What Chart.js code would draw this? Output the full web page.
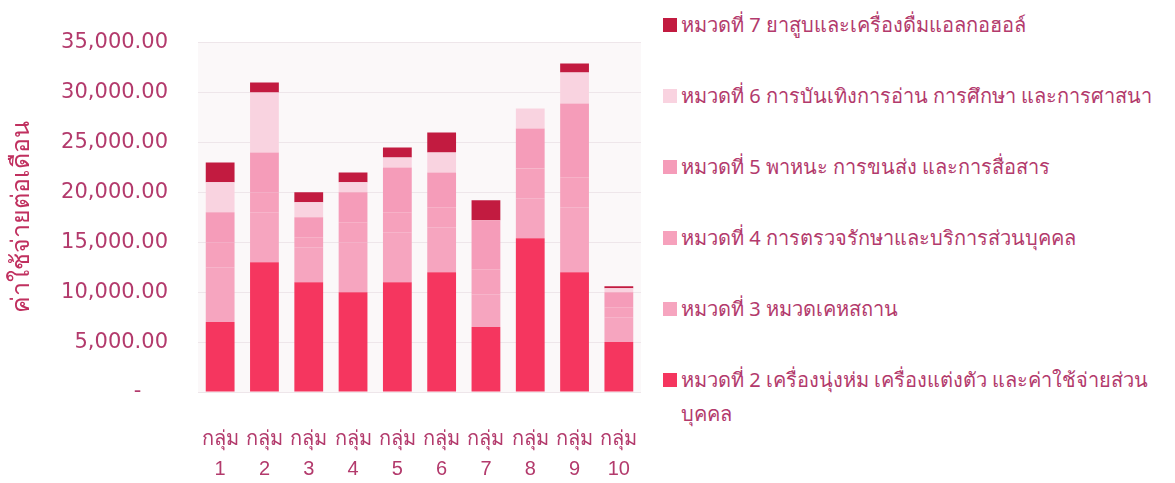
<!DOCTYPE html>
<html>
<head>
<meta charset="utf-8">
<script src="https://cdn.jsdelivr.net/npm/chart.js@4.4.1/dist/chart.umd.min.js"></script>
<style>
  body { margin: 0; background: #fff; font-family: "Noto Sans", "DejaVu Sans", sans-serif; }
  #wrap { position: relative; width: 1175px; height: 483px; }
  #box { position: absolute; left: 0; top: 0; width: 646px; height: 483px; }
  #legend { position: absolute; left: 663px; top: 8px; width: 505px;
            display: flex; flex-direction: column; gap: 37px; }
  .item { display: flex; align-items: flex-start; font-size: 20px; line-height: 34px; color: #b33a6c; }
  .item .tx { max-width: 490px; }
  .sw { width: 14px; height: 14px; margin: 10px 4px 0 0; flex: none; }
</style>
</head>
<body>
<div id="wrap">
  <div id="box"><canvas id="barChart"></canvas></div>
  <div id="legend"></div>
</div>
<script>
const groups = ['กลุ่ม 1', 'กลุ่ม 2', 'กลุ่ม 3', 'กลุ่ม 4', 'กลุ่ม 5', 'กลุ่ม 6', 'กลุ่ม 7', 'กลุ่ม 8', 'กลุ่ม 9', 'กลุ่ม 10'];

const cat2 = [7000, 13000, 11000, 10000, 11000, 12000, 6500, 15400, 12000, 5000];
const cat3 = [5500, 5000, 3500, 5000, 5000, 4500, 3300, 4000, 6500, 2500];
const cat4 = [2500, 2000, 1000, 2000, 2000, 2000, 2500, 3000, 3000, 1000];
const cat5 = [3000, 4000, 2000, 3000, 4500, 3500, 4900, 4000, 7400, 1500];
const cat6 = [3000, 6000, 1500, 1000, 1000, 2000, 0, 2000, 3100, 400];
const cat7 = [2000, 1000, 1000, 1000, 1000, 2000, 2000, 0, 900, 200];

const seriesNames = [
    'หมวดที่ 2 เครื่องนุ่งห่ม เครื่องแต่งตัว และค่าใช้จ่ายส่วนบุคคล',
    'หมวดที่ 3 หมวดเคหสถาน',
    'หมวดที่ 4 การตรวจรักษาและบริการส่วนบุคคล',
    'หมวดที่ 5 พาหนะ การขนส่ง และการสื่อสาร',
    'หมวดที่ 6 การบันเทิงการอ่าน การศึกษา และการศาสนา',
    'หมวดที่ 7 ยาสูบและเครื่องดื่มแอลกอฮอล์'
];
const seriesColors = ['#f5365f', '#f6a5bf', '#f6a1bc', '#f59cb9', '#f9d3e0', '#c21b40'];
const yTicks = [0, 5000, 10000, 15000, 20000, 25000, 30000, 35000];

const values = [cat2, cat3, cat4, cat5, cat6, cat7];
const textColor = '#b33a6c';

// พื้นหลังของพื้นที่กราฟ
const areaBg = {
    id: 'areaBg',
    beforeDraw(chart) {
        const a = chart.chartArea, c = chart.ctx;
        c.save();
        c.fillStyle = '#fbf8f9';
        c.fillRect(a.left, a.top, a.right - a.left, a.bottom - a.top);
        c.restore();
    }
};

const ctx = document.getElementById('barChart').getContext('2d');
const barChart = new Chart(ctx, {
    type: 'bar',
    data: {
        labels: groups.map(g => g.split(' ')),
        datasets: values.map((v, i) => ({
            label: seriesNames[i],
            data: v,
            backgroundColor: seriesColors[i],
            borderWidth: 0,
            barPercentage: 0.65,
            categoryPercentage: 1
        }))
    },
    options: {
        responsive: true,
        maintainAspectRatio: false,
        animation: false,
        layout: { padding: { left: 5, right: 5, top: 36, bottom: 0 } },
        scales: {
            x: {
                stacked: true,
                grid: { display: false, drawTicks: false },
                border: { display: false },
                ticks: { color: textColor, font: { size: 20, lineHeight: 1.5 }, padding: 32, maxRotation: 0, autoSkip: false },
                afterFit: (axis) => { axis.height = 91; axis.paddingLeft = 0; axis.paddingRight = 0; }
            },
            y: {
                stacked: true,
                min: 0,
                max: 35000,
                afterBuildTicks: (axis) => { axis.ticks = yTicks.map(v => ({ value: v })); },
                grid: { color: '#eee6ea', drawTicks: false },
                border: { display: false },
                ticks: {
                    color: textColor,
                    font: { family: 'DejaVu Sans', size: 21 },
                    padding: 30,
                    callback: (v) => v === 0 ? '-    ' : v.toLocaleString('en-US', { minimumFractionDigits: 2, maximumFractionDigits: 2 })
                },
                title: { display: true, text: 'ค่าใช้จ่ายต่อเดือน', color: '#c0305f', font: { size: 25 }, padding: { top: 2, bottom: 0 } },
                afterFit: (axis) => { axis.width = 193; }
            }
        },
        plugins: {
            legend: { display: false },
            tooltip: { enabled: false }
        }
    },
    plugins: [areaBg]
});

// คำอธิบายสัญลักษณ์ (เรียงจากหมวด 7 ลงมา)
const legend = document.getElementById('legend');
seriesNames.slice().reverse().forEach((name, k) => {
    const i = seriesNames.length - 1 - k;
    const row = document.createElement('div');
    row.className = 'item';
    row.innerHTML = '<span class="sw" style="background:' + seriesColors[i] + '"></span><span class="tx">' + name + '</span>';
    legend.appendChild(row);
});
</script>
</body>
</html>
